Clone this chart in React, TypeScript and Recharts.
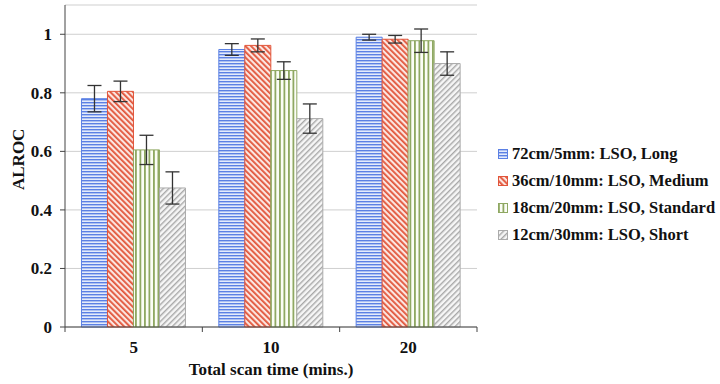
import { BarChart, Bar, XAxis, YAxis, CartesianGrid, ErrorBar } from "recharts"

const scanTimes = ["5", "10", "20"]
const longVals = [0.78, 0.948, 0.99]
const longErr = [0.045, 0.02, 0.01]
const mediumVals = [0.805, 0.962, 0.983]
const mediumErr = [0.035, 0.022, 0.013]
const standardVals = [0.605, 0.876, 0.978]
const standardErr = [0.05, 0.03, 0.04]
const shortVals = [0.475, 0.712, 0.9]
const shortErr = [0.055, 0.05, 0.04]
const yTicks = [0, 0.2, 0.4, 0.6, 0.8, 1]

const series = [
  { key: "long", err: "longErr", name: "72cm/5mm: LSO, Long", stroke: "#5b80e4", fill: "url(#pat-long)" },
  { key: "medium", err: "mediumErr", name: "36cm/10mm: LSO, Medium", stroke: "#e2553a", fill: "url(#pat-medium)" },
  { key: "standard", err: "standardErr", name: "18cm/20mm: LSO, Standard", stroke: "#8fa862", fill: "url(#pat-standard)" },
  { key: "short", err: "shortErr", name: "12cm/30mm: LSO, Short", stroke: "#ababab", fill: "url(#pat-short)" },
]

const data = scanTimes.map((t, i) => ({
  time: t,
  long: longVals[i],
  longErr: longErr[i],
  medium: mediumVals[i],
  mediumErr: mediumErr[i],
  standard: standardVals[i],
  standardErr: standardErr[i],
  short: shortVals[i],
  shortErr: shortErr[i],
}))

const W = 720
const H = 384
const M = { top: 5, right: 243, bottom: 12, left: 10 }
const Y_W = 55
const band = (W - M.left - Y_W - M.right) / scanTimes.length
const font = "Liberation Serif"

const XTick = (props: any) => {
  const { x, y, payload, index } = props
  const edges = [x - band / 2]
  if (index === scanTimes.length - 1) edges.push(x + band / 2)
  return (
    <g>
      {edges.map((ex, i) => (
        <line key={i} x1={ex} x2={ex} y1={y - 8} y2={y - 3} stroke="#444" strokeWidth={1} />
      ))}
      <text x={x} y={y + 18} textAnchor="middle" fontFamily={font} fontWeight="bold" fontSize={17} fill="#111">
        {payload.value}
      </text>
    </g>
  )
}

export default function App() {
  return (
    <div style={{ position: "absolute", left: 0, top: 0, width: W, height: H, background: "#fff" }}>
      <BarChart width={W} height={H} data={data} margin={M} barCategoryGap="12%" barGap={0}>
        <defs>
          <pattern id="pat-long" patternUnits="userSpaceOnUse" width={6} height={3}>
            <rect width={6} height={3} fill="#e4ebfb" />
            <rect y={0} width={6} height={1.4} fill="#5b80e4" />
          </pattern>
          <pattern id="pat-medium" patternUnits="userSpaceOnUse" width={4} height={4} patternTransform="rotate(-45)">
            <rect width={4} height={4} fill="#fbe6e1" />
            <rect x={0} width={1.8} height={4} fill="#e2553a" />
          </pattern>
          <pattern id="pat-standard" patternUnits="userSpaceOnUse" width={4.5} height={6}>
            <rect width={4.5} height={6} fill="#fbfdf6" />
            <rect x={0} width={1.8} height={6} fill="#8fa862" />
          </pattern>
          <pattern id="pat-short" patternUnits="userSpaceOnUse" width={4} height={4} patternTransform="rotate(45)">
            <rect width={4} height={4} fill="#f6f6f6" />
            <rect x={0} width={1.4} height={4} fill="#a8a8a8" />
          </pattern>
        </defs>
        <CartesianGrid vertical={false} stroke="#cfcfcf" />
        <XAxis
          dataKey="time"
          tickLine={false}
          axisLine={{ stroke: "#444" }}
          height={45}
          tick={XTick}
          label={{ value: "Total scan time (mins.)", position: "insideBottom", offset: -3, fontFamily: font, fontWeight: "bold", fontSize: 17, fill: "#111" }}
        />
        <XAxis xAxisId="top" dataKey="time" orientation="top" height={0} tick={false} tickLine={false} axisLine={{ stroke: "#666" }} />
        <YAxis
          domain={[0, 1.1]}
          ticks={yTicks}
          width={Y_W}
          tickSize={5}
          tickMargin={8}
          tickLine={{ stroke: "#444" }}
          axisLine={{ stroke: "#444" }}
          tick={{ fontFamily: font, fontWeight: "bold", fontSize: 17, fill: "#111" }}
          label={{ value: "ALROC", angle: -90, position: "insideLeft", offset: 8, fontFamily: font, fontWeight: "bold", fontSize: 17, fill: "#111", dy: 24 }}
        />
        <YAxis yAxisId="right" orientation="right" width={0} domain={[0, 1.1]} tick={false} tickLine={false} axisLine={{ stroke: "#666" }} />
        {series.map((s) => (
          <Bar key={s.key} dataKey={s.key} name={s.name} fill={s.fill} stroke={s.stroke} strokeWidth={1} isAnimationActive={false}>
            <ErrorBar dataKey={s.err} width={7} stroke="#333" strokeWidth={1.3} />
          </Bar>
        ))}
      </BarChart>
      <div style={{ position: "absolute", left: 498, top: 140, fontFamily: font, fontWeight: "bold", fontSize: 16.5, color: "#111" }}>
        {series.map((s) => (
          <div key={s.key} style={{ display: "flex", alignItems: "center", height: 27 }}>
            <svg width={10} height={10} style={{ marginRight: 4 }}>
              <rect x={0.5} y={0.5} width={9} height={9} fill={s.fill} stroke={s.stroke} />
            </svg>
            {s.name}
          </div>
        ))}
      </div>
    </div>
  )
}
